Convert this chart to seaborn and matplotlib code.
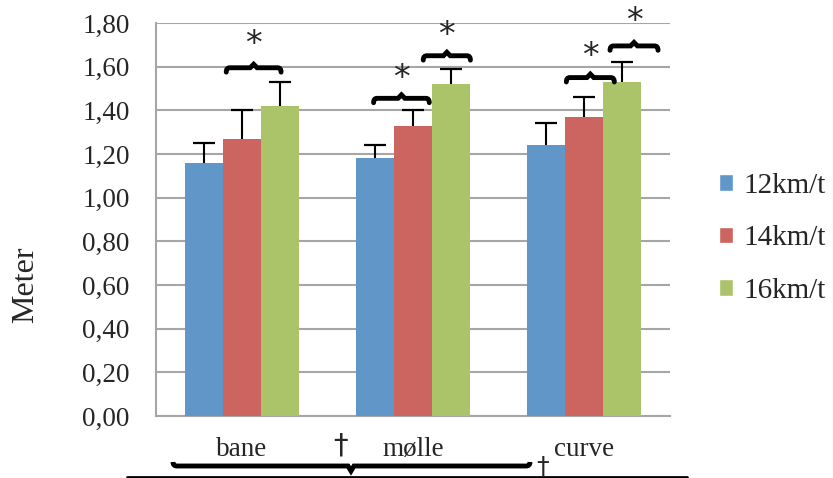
import matplotlib
matplotlib.use("Agg")
import matplotlib.pyplot as plt
import seaborn as sns
import pandas as pd
import numpy as np
from matplotlib.path import Path
from matplotlib.patches import PathPatch
from matplotlib.lines import Line2D
from matplotlib.ticker import FuncFormatter

categories = ["bane", "mølle", "curve"]
series = ["12km/t", "14km/t", "16km/t"]
mean_12 = [1.16, 1.18, 1.24]
mean_14 = [1.27, 1.33, 1.37]
mean_16 = [1.42, 1.52, 1.53]
sd_12 = [0.09, 0.06, 0.10]
sd_14 = [0.13, 0.07, 0.09]
sd_16 = [0.11, 0.07, 0.09]
colors = ["#6196C9", "#CC645F", "#ABC46A"]

means = [mean_12, mean_14, mean_16]
sds = [sd_12, sd_14, sd_16]
rows = []
for s, m in zip(series, means):
    for c, v in zip(categories, m):
        rows.append({"cat": c, "speed": s, "val": v})
df = pd.DataFrame(rows)

sns.set_style("white")
plt.rcParams["font.family"] = ["Liberation Serif", "DejaVu Serif"]

W, H = 833, 478
fig = plt.figure(figsize=(W / 100, H / 100), dpi=100)
ax = fig.add_axes([156 / W, 1 - 416 / H, (670 - 156) / W, (416 - 23) / H])

sns.barplot(data=df, x="cat", y="val", hue="speed", order=categories,
            hue_order=series, palette=colors, width=0.667, gap=0,
            errorbar=None, saturation=1, ax=ax, legend=True, zorder=3)

for cont, sd in zip(ax.containers, sds):
    for p, e in zip(cont.patches, sd):
        p.set_linewidth(0)
        xc = p.get_x() + p.get_width() / 2
        top = p.get_height()
        ax.errorbar(xc, top, yerr=[[0], [e]], fmt="none", ecolor="black",
                    elinewidth=1.5, capsize=0, zorder=4)
        ax.plot([xc], [top + e], marker="_", ms=16, mew=1.6, color="black",
                zorder=4)

ax.set_xlim(-0.5, 2.5)
ax.set_ylim(0, 1.8)
ax.set_yticks(np.arange(0, 1.81, 0.2))
ax.yaxis.set_major_formatter(FuncFormatter(lambda v, p: f"{v:.2f}".replace(".", ",")))
ax.grid(axis="y", color="#A6A6A6", linewidth=1.5, zorder=0)
ax.set_axisbelow(True)
for side in ["top", "right"]:
    ax.spines[side].set_visible(False)
for side in ["left", "bottom"]:
    ax.spines[side].set_color("#A6A6A6")
    ax.spines[side].set_linewidth(1.5)
ax.set_xticks([-0.5, 0.5, 1.5, 2.5])
ax.set_xticks([0, 1, 2], minor=True)
ax.set_xticklabels(["", "", "", ""])
ax.set_xticklabels(categories, minor=True)
ax.tick_params(axis="x", which="major", direction="out", length=8, width=1.5, color="#A6A6A6")
ax.tick_params(axis="x", which="minor", length=0, pad=15, labelsize=19.5)
ax.tick_params(axis="y", direction="out", length=8, width=1.5, color="#A6A6A6", labelsize=19.5, pad=11)
ax.set_xlabel("")
ax.set_ylabel("Meter", fontsize=23)
ax.yaxis.set_label_coords((40 - 156) / 514, (416 - 285) / 393)

leg = ax.legend(loc="upper left", bbox_to_anchor=(1.044, 0.685), frameon=False,
                fontsize=21, handlelength=0.5, handleheight=0.5,
                handletextpad=0.33, labelspacing=0.9)


def brace(x1, x2, y, dy, lw=3.5):
    verts = [(x1, y - dy), (x1, y), (x1 + 0.02, y), ((x1 + x2) / 2 - 0.02, y),
             ((x1 + x2) / 2, y + dy * 0.8), ((x1 + x2) / 2 + 0.02, y),
             (x2 - 0.02, y), (x2, y), (x2, y - dy)]
    codes = [Path.MOVETO, Path.CURVE3, Path.CURVE3, Path.LINETO,
             Path.LINETO, Path.LINETO, Path.LINETO, Path.CURVE3, Path.CURVE3]
    ax.add_patch(PathPatch(Path(verts, codes), facecolor="none", edgecolor="black",
                           lw=lw, clip_on=False, zorder=6, capstyle="round"))


# brackets: (x1, x2, y, star_y)
br = [(-0.09, 0.23, 1.595, 1.70),
      (0.77, 1.095, 1.455, 1.545),
      (1.06, 1.335, 1.65, 1.745),
      (1.895, 2.175, 1.55, 1.645),
      (2.15, 2.43, 1.695, 1.805)]
for x1, x2, y, sy in br:
    brace(x1, x2, y, 0.02)
    ax.text((x1 + x2) / 2, sy, "*", ha="center", va="center", fontsize=24,
            family="DejaVu Sans", clip_on=False, zorder=6)

# bottom annotations in pixel coordinates
def px(x, y):
    return (x / W, 1 - y / H)

tf = fig.transFigure
x1, x2, yb = 173, 530, 466
verts = [px(x1, yb - 4), px(x1, yb), px(x1 + 4, yb), px(348, yb), px(351, yb + 5),
         px(354, yb), px(x2 - 4, yb), px(x2, yb), px(x2, yb - 4)]
codes = [Path.MOVETO, Path.CURVE3, Path.CURVE3, Path.LINETO, Path.LINETO,
         Path.LINETO, Path.LINETO, Path.CURVE3, Path.CURVE3]
fig.add_artist(PathPatch(Path(verts, codes), transform=tf, facecolor="none",
                         edgecolor="black", lw=3.5))
fig.add_artist(Line2D([127 / W, 687 / W], [1 - 476.5 / H] * 2, transform=tf,
                      color="black", lw=2))
fig.text(340 / W, 1 - 446 / H, "†", ha="center", va="center", fontsize=21,
         family="DejaVu Sans")
fig.text(543 / W, 1 - 466 / H, "†", ha="center", va="center", fontsize=18,
         family="DejaVu Sans")

fig.savefig("out.png", dpi=100)
